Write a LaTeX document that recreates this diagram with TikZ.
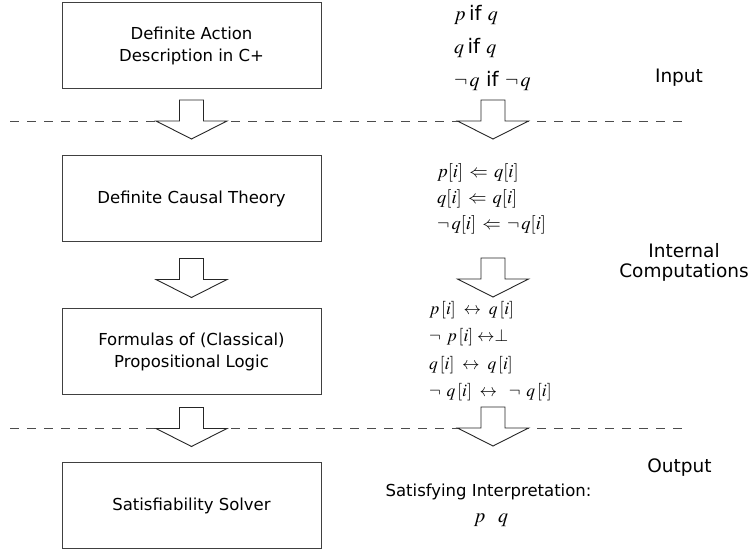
\documentclass[tikz,border=0pt]{standalone}
\usepackage{mathptmx}
\usepackage[no-math]{fontspec}
\setmainfont{DejaVu Sans}
\usetikzlibrary{positioning, calc}
\tikzset{
  stage/.style={rectangle, draw=black!75, line width=1pt, fill=white,
    minimum width=259pt, minimum height=86pt, align=center,
    font=\fontsize{16.5}{22}\selectfont},
  layer/.style={align=center, font=\fontsize{18.5}{20}\selectfont},
  formula/.style={anchor=west, align=left, inner sep=0pt},
  phase/.style={draw=black!70, line width=0.9pt, dash pattern=on 9pt off 8pt},
  blockarr/.style={draw=black!85, line width=0.9pt, fill=white},
}
% hollow arrow pointing down, #1 = middle of its top edge
\newcommand{\downblock}[1]{%
  \draw[blockarr] (#1) ++(-12,0) -- ++(0,21) -- ++(-23.5,0) -- ++(35.5,18)
    -- ++(35.5,-18) -- ++(-23.5,0) -- ++(0,-21) -- cycle;}
\newcommand{\nt}{\neg\mkern2mu}

\begin{document}
\begin{tikzpicture}[x=1pt, y=-1pt]
\useasboundingbox (0,0) rectangle (750,552);

% phase borders
\draw[phase] (10,121) -- (686,121);
\draw[phase] (10,428) -- (686,428);

% left column
\node (cplus)  [stage] at (191.5,45.5)  {Definite Action\\Description in C+};
\node (causal) [stage] at (191.5,198.5) {Definite Causal Theory};
\node (logic)  [stage] at (191.5,351.5) {Formulas of (Classical)\\Propositional Logic};
\node (solver) [stage] at (191.5,505.5) {Satisfiability Solver};

\downblock{$(cplus.south)+(0,11)$}
\downblock{$(causal.south)+(0,16.5)$}
\downblock{$(logic.south)+(0,12.5)$}

% right column
\node (rules) [formula, font=\fontsize{20}{33}\selectfont] at (454,48)
  {$p$\,if $q$\\$q$\,if $q$\\$\nt q$ if $\nt q$};

\node (causalrules) [formula, font=\fontsize{18.5}{26}\selectfont] at (437,199)
  {$p[i]\,\Leftarrow\,q[i]$\\
   $q[i]\,\Leftarrow\,q[i]$\\
   $\nt q[i]\,\Leftarrow\,\nt q[i]$};

\node (clauses) [formula, font=\fontsize{17.5}{27.3}\selectfont] at (429,351)
  {$p\,[i]\;\leftrightarrow\;q\,[i]$\\
   $\nt\;p\,[i]\;{\leftrightarrow}{\bot}$\\
   $q\,[i]\;\leftrightarrow\;q\,[i]$\\
   $\nt\;q\,[i]\;\leftrightarrow\;\;\nt\;q\,[i]$};

\coordinate (r1) at (493,100);
\coordinate (r2) at (493,258);
\coordinate (r3) at (493,407);
\downblock{r1}
\downblock{r2}
\downblock{r3}

\node (sat) [font=\fontsize{16.5}{20}\selectfont] at (488.5,492)
  {Satisfying Interpretation:};
\node (model) [font=\fontsize{20}{20}\selectfont] at (491,520) {$p\ \ q$};

% phase labels
\node (input)    [layer] at (679,78)  {Input};
\node (internal) [layer] at (684,262) {Internal\\Computations};
\node (output)   [layer] at (679.5,468) {Output};

\end{tikzpicture}
\end{document}
